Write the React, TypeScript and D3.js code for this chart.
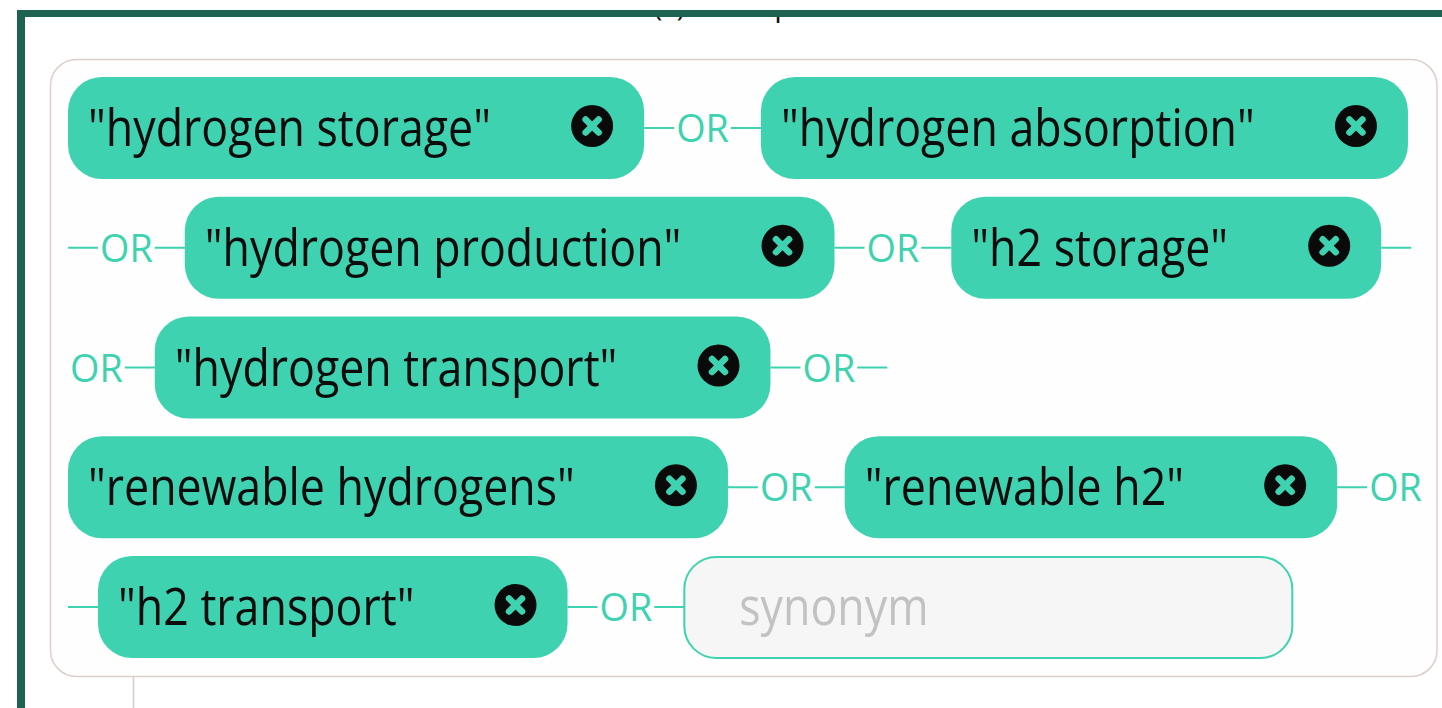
import { useEffect, useRef } from "react";
import * as d3 from "d3";

// synonym chips, in the order they are entered
const synonyms = [
  "hydrogen storage",
  "hydrogen absorption",
  "hydrogen production",
  "h2 storage",
  "hydrogen transport",
  "renewable hydrogens",
  "renewable h2",
  "h2 transport",
];
const joinWord = "OR";
const inputPlaceholder = "synonym";
const headerText = "Term(s) to map";

const W = 1442;
const H = 708;
const TEAL = "#3fd2b0";
const FONT = "'Open Sans', 'Noto Sans', sans-serif";

type Item =
  | { kind: "chip"; label: string; w: number }
  | { kind: "line"; w: number }
  | { kind: "or"; w: number }
  | { kind: "input"; w: number };

export default function App() {
  const svgRef = useRef<SVGSVGElement>(null);

  useEffect(() => {
    if (!svgRef.current) return;
    const svg = d3.select(svgRef.current);
    svg.selectAll("*").remove();

    const chipSize = 52;
    const chipSquash = 0.86;
    const orSize = 39;
    const orSquash = 0.97;

    const measure = (txt: string, size: number) => {
      const t = svg
        .append("text")
        .style("font-family", FONT)
        .style("font-size", `${size}px`)
        .text(txt);
      const w = (t.node() as SVGTextElement).getComputedTextLength();
      t.remove();
      return w;
    };

    // box + flow settings
    const box = { x: 50.5, y: 59.5, w: 1386.5, h: 617 };
    const innerLeft = 68;
    const innerRight = 1428;
    const firstRow = 77;
    const rowH = 102;
    const rowPitch = 119.75;
    const lineW = 30;

    const items: Item[] = [];
    synonyms.forEach((s) => {
      const tw = measure(`"${s}"`, chipSize) * chipSquash;
      items.push({ kind: "chip", label: s, w: tw + 173 });
      items.push({ kind: "line", w: lineW });
      items.push({ kind: "or", w: measure(joinWord, orSize) * orSquash + 4 });
      items.push({ kind: "line", w: lineW });
    });
    items.push({ kind: "input", w: 608 });

    // flex-wrap style placement
    let cx = innerLeft;
    let row = 0;
    const placed = items.map((it) => {
      if (cx + it.w > innerRight && cx > innerLeft) {
        row += 1;
        cx = innerLeft;
      }
      const p = { ...it, x: cx, y: firstRow + row * rowPitch };
      cx += it.w;
      return p;
    });

    svg.append("rect").attr("width", W).attr("height", H).attr("fill", "#fff");

    // header text, mostly hidden behind the frame
    svg
      .append("clipPath")
      .attr("id", "hdr-clip")
      .append("rect")
      .attr("x", 0)
      .attr("y", 17)
      .attr("width", W)
      .attr("height", 20);
    svg
      .append("text")
      .attr("clip-path", "url(#hdr-clip)")
      .attr("x", 580)
      .attr("y", 16)
      .style("font-family", FONT)
      .style("font-size", "30px")
      .style("fill", "#111")
      .text(headerText);

    // dark frame
    svg.append("rect").attr("x", 17).attr("y", 10).attr("width", W - 17).attr("height", 7).attr("fill", "#1e6352");
    svg.append("rect").attr("x", 17).attr("y", 10).attr("width", 8).attr("height", H - 10).attr("fill", "#1e6352");

    // outer rounded container
    svg
      .append("rect")
      .attr("x", box.x)
      .attr("y", box.y)
      .attr("width", box.w)
      .attr("height", box.h)
      .attr("rx", 26)
      .attr("fill", "#fefefe")
      .attr("stroke", "#ddd0cc")
      .attr("stroke-width", 1.6);

    svg
      .append("line")
      .attr("x1", 133.5)
      .attr("x2", 133.5)
      .attr("y1", box.y + box.h)
      .attr("y2", H)
      .attr("stroke", "#d9ccc8")
      .attr("stroke-width", 1.6);

    const g = svg.append("g");

    placed.forEach((p) => {
      const mid = p.y + rowH / 2;
      if (p.kind === "chip") {
        const c = g.append("g").attr("transform", `translate(${p.x},${p.y})`);
        c.append("rect").attr("width", p.w).attr("height", rowH).attr("rx", 34).attr("fill", TEAL);
        c.append("text")
          .attr("transform", `translate(20,${rowH / 2 + 18}) scale(${chipSquash},1)`)
          .style("font-family", FONT)
          .style("font-size", `${chipSize}px`)
          .style("fill", "#0c0c0c")
          .text(`"${p.label}"`);
        const ix = p.w - 52;
        const iy = rowH / 2 - 2;
        c.append("circle").attr("cx", ix).attr("cy", iy).attr("r", 21).attr("fill", "#0a0a0a");
        [[-1, -1, 1, 1], [-1, 1, 1, -1]].forEach(([a, b, e, f]) => {
          c.append("line")
            .attr("x1", ix + a * 6.5)
            .attr("y1", iy + b * 6.5)
            .attr("x2", ix + e * 6.5)
            .attr("y2", iy + f * 6.5)
            .attr("stroke", TEAL)
            .attr("stroke-width", 6.5)
            .attr("stroke-linecap", "round");
        });
      } else if (p.kind === "line") {
        g.append("line")
          .attr("x1", p.x)
          .attr("x2", p.x + p.w)
          .attr("y1", mid)
          .attr("y2", mid)
          .attr("stroke", TEAL)
          .attr("stroke-width", 2);
      } else if (p.kind === "or") {
        g.append("text")
          .attr("transform", `translate(${p.x + 2},${mid + 14}) scale(${orSquash},1)`)
          .style("font-family", FONT)
          .style("font-size", `${orSize}px`)
          .style("fill", TEAL)
          .text(joinWord);
      } else {
        g.append("rect")
          .attr("x", p.x)
          .attr("y", p.y + 1)
          .attr("width", p.w)
          .attr("height", rowH - 1)
          .attr("rx", 32)
          .attr("fill", "#f6f6f6")
          .attr("stroke", TEAL)
          .attr("stroke-width", 2);
        g.append("text")
          .attr("transform", `translate(${p.x + 55},${mid + 18}) scale(${chipSquash},1)`)
          .style("font-family", FONT)
          .style("font-size", `${chipSize}px`)
          .style("fill", "#c2c2c2")
          .text(inputPlaceholder);
      }
    });
  }, []);

  return (
    <svg
      ref={svgRef}
      width={W}
      height={H}
      style={{ position: "absolute", left: 0, top: 0, display: "block" }}
    />
  );
}
